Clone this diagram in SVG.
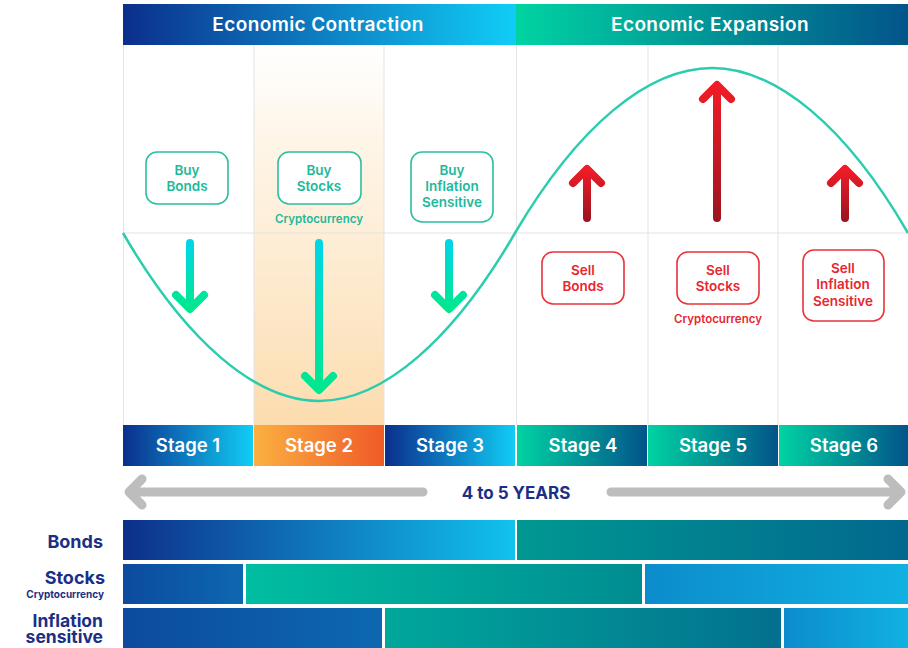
<svg xmlns="http://www.w3.org/2000/svg" width="908" height="648" viewBox="0 0 908 648">
<defs>
<linearGradient id="gBlue" x1="0" y1="0" x2="1" y2="0"><stop offset="0" stop-color="#0b2f8c"/><stop offset="1" stop-color="#10cdf6"/></linearGradient>
<linearGradient id="gTeal" x1="0" y1="0" x2="1" y2="0"><stop offset="0" stop-color="#00d3a2"/><stop offset="1" stop-color="#03548a"/></linearGradient>
<linearGradient id="gOrange" x1="0" y1="0" x2="1" y2="0"><stop offset="0" stop-color="#fbb040"/><stop offset="1" stop-color="#f05a28"/></linearGradient>
<linearGradient id="gPeach" x1="0" y1="0" x2="0" y2="1"><stop offset="0" stop-color="#fde3bd" stop-opacity="0"/><stop offset="0.25" stop-color="#fde3bd" stop-opacity="0.35"/><stop offset="1" stop-color="#fcdcae"/></linearGradient>
<linearGradient id="gDown" x1="0" y1="0" x2="0" y2="1"><stop offset="0" stop-color="#00d6e6"/><stop offset="1" stop-color="#00e88e"/></linearGradient>
<linearGradient id="gUp" x1="0" y1="0" x2="0" y2="1"><stop offset="0" stop-color="#f01c26"/><stop offset="1" stop-color="#9e1520"/></linearGradient>
<linearGradient id="gBar1" x1="0" y1="0" x2="1" y2="0"><stop offset="0" stop-color="#0d2f8a"/><stop offset="1" stop-color="#11c2ef"/></linearGradient>
<linearGradient id="gBar2" x1="0" y1="0" x2="1" y2="0"><stop offset="0" stop-color="#009892"/><stop offset="1" stop-color="#02688e"/></linearGradient>
<linearGradient id="gBarB" x1="0" y1="0" x2="1" y2="0"><stop offset="0" stop-color="#0c4b9e"/><stop offset="1" stop-color="#0d68b0"/></linearGradient>
<linearGradient id="gBarT" x1="0" y1="0" x2="1" y2="0"><stop offset="0" stop-color="#00bea1"/><stop offset="1" stop-color="#008c91"/></linearGradient>
<linearGradient id="gBarT2" x1="0" y1="0" x2="1" y2="0"><stop offset="0" stop-color="#00a89b"/><stop offset="1" stop-color="#03708e"/></linearGradient>
<linearGradient id="gBarC" x1="0" y1="0" x2="1" y2="0"><stop offset="0" stop-color="#0c8ccc"/><stop offset="1" stop-color="#11b1e2"/></linearGradient>
</defs>
<style>
text{font-family:"Inter","Open Sans","Liberation Sans",sans-serif;font-weight:700;text-anchor:middle}
.hd{fill:#fff;font-size:19px;font-weight:600;letter-spacing:0.4px}
.st{fill:#fff;font-size:18.5px;font-weight:600}
.grid{stroke:#e3e3e3;stroke-width:1;fill:none}
.buy{fill:#fff;stroke:#2bbfa0;stroke-width:1.6}
.buyt{fill:#1db99b;font-size:13.5px;font-weight:600}
.sell{fill:#fff;stroke:#e8333b;stroke-width:1.6}
.sellt{fill:#e8262f;font-size:13.5px;font-weight:600}
.small{font-size:11.5px;font-weight:600}
.dn{stroke:url(#gDown);stroke-width:8;stroke-linecap:round;stroke-linejoin:round;fill:none}
.up{stroke:url(#gUp);stroke-width:8;stroke-linecap:round;stroke-linejoin:round;fill:none}
.gray{stroke:#bdbdbd;stroke-width:9;stroke-linecap:round;stroke-linejoin:round;fill:none}
.lbl{fill:#1b2f86;font-size:18px;text-anchor:end}
</style>
<rect width="908" height="648" fill="#fff"/>
<rect x="254" y="45" width="130" height="380" fill="url(#gPeach)"/>
<g id="grid">
<path class="grid" d="M123.5 45V425M254 45V425M384 45V425M516.5 45V425M648 45V425M778 45V425M123 233H908"/>
</g>
<g id="header">
<rect x="123" y="4" width="393" height="41" fill="url(#gBlue)"/>
<rect x="516" y="4" width="392" height="41" fill="url(#gTeal)"/>
<text class="hd" x="318" y="31">Economic Contraction</text>
<text class="hd" x="710" y="31">Economic Expansion</text>
</g>
<g id="curve">
<path d="M123 233 C 185 340, 255 401, 319 401 C 383 401, 453 340, 515 233 C 578 126, 648 68, 712 68 C 776 68, 846 126, 908 233" fill="none" stroke="#2ccdae" stroke-width="2.5"/>
</g>
<g id="connectors">
<path class="dn" d="M190 243V308M176 295L190 309L204 295"/>
<path class="dn" d="M319 243V389M305 376L319 390L333 376"/>
<path class="dn" d="M449 243V308M435 295L449 309L463 295"/>
<path class="up" d="M587 218V170M573 183L587 169L601 183"/>
<path class="up" d="M717 218V86M703 99L717 85L731 99"/>
<path class="up" d="M845 218V170M831 183L845 169L859 183"/>
</g>
<g id="buy-bonds"><rect class="buy" x="146" y="152" width="82" height="52" rx="11"/><text class="buyt" x="187" y="175">Buy</text><text class="buyt" x="187" y="191">Bonds</text></g>
<g id="buy-stocks"><rect class="buy" x="278" y="152" width="83" height="52" rx="11"/><text class="buyt" x="319" y="175">Buy</text><text class="buyt" x="319" y="191">Stocks</text><text class="buyt small" x="319" y="223">Cryptocurrency</text></g>
<g id="buy-inflation"><rect class="buy" x="411" y="152" width="82" height="70" rx="11"/><text class="buyt" x="452" y="175">Buy</text><text class="buyt" x="452" y="191">Inflation</text><text class="buyt" x="452" y="207">Sensitive</text></g>
<g id="sell-bonds"><rect class="sell" x="542" y="252" width="82" height="52" rx="11"/><text class="sellt" x="583" y="275">Sell</text><text class="sellt" x="583" y="291">Bonds</text></g>
<g id="sell-stocks"><rect class="sell" x="677" y="252" width="82" height="52" rx="11"/><text class="sellt" x="718" y="275">Sell</text><text class="sellt" x="718" y="291">Stocks</text><text class="sellt small" x="718" y="323">Cryptocurrency</text></g>
<g id="sell-inflation"><rect class="sell" x="803" y="250" width="81" height="71" rx="11"/><text class="sellt" x="843" y="273">Sell</text><text class="sellt" x="843" y="289">Inflation</text><text class="sellt" x="843" y="306">Sensitive</text></g>
<g id="stages">
<rect x="123" y="425" width="130" height="41" fill="url(#gBlue)"/>
<rect x="254" y="425" width="130" height="41" fill="url(#gOrange)"/>
<rect x="385" y="425" width="130" height="41" fill="url(#gBlue)"/>
<rect x="517" y="425" width="130" height="41" fill="url(#gTeal)"/>
<rect x="648" y="425" width="130" height="41" fill="url(#gTeal)"/>
<rect x="779" y="425" width="129" height="41" fill="url(#gTeal)"/>
<text class="st" x="188" y="452">Stage 1</text>
<text class="st" x="319" y="452">Stage 2</text>
<text class="st" x="450" y="452">Stage 3</text>
<text class="st" x="583" y="452">Stage 4</text>
<text class="st" x="713" y="452">Stage 5</text>
<text class="st" x="844" y="452">Stage 6</text>
</g>
<g id="timeline">
<path class="gray" d="M423 492H129M142 479L129 492L142 505"/>
<path class="gray" d="M611 492H901M888 479L901 492L888 505"/>
<text x="516" y="499" fill="#1b2f86" font-size="17" font-weight="700">4 to 5 YEARS</text>
</g>
<g id="bars">
<rect x="123" y="520" width="392" height="40" fill="url(#gBar1)"/>
<rect x="517" y="520" width="391" height="40" fill="url(#gBar2)"/>
<rect x="123" y="564" width="120" height="40" fill="url(#gBarB)"/>
<rect x="246" y="564" width="396" height="40" fill="url(#gBarT)"/>
<rect x="645" y="564" width="263" height="40" fill="url(#gBarC)"/>
<rect x="123" y="608" width="259" height="40" fill="url(#gBarB)"/>
<rect x="385" y="608" width="396" height="40" fill="url(#gBarT2)"/>
<rect x="784" y="608" width="124" height="40" fill="url(#gBarC)"/>
</g>
<g id="labels">
<text class="lbl" x="103" y="548">Bonds</text>
<text class="lbl" x="105" y="584">Stocks</text>
<text class="lbl" x="104" y="598" style="font-size:10px">Cryptocurrency</text>
<text class="lbl" x="103" y="627" style="font-size:17.5px">Inflation</text>
<text class="lbl" x="103" y="643" style="font-size:17.5px">sensitive</text>
</g>
</svg>
